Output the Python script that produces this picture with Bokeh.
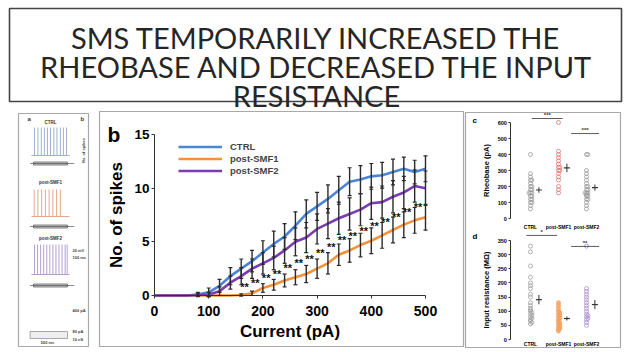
import numpy as np
from bokeh.plotting import figure
from bokeh.models import (Range1d, LinearAxis, FixedTicker, Whisker, ColumnDataSource,
                          TeeHead, Legend, LegendItem)
from bokeh.embed import file_html
from bokeh.resources import INLINE
from bokeh.core.properties import value

W, H = 624, 352

title_lines = ["SMS TEMPORARILY INCREASED THE",
               "RHEOBASE AND DECREASED THE INPUT",
               "RESISTANCE"]

# ---- b: number of spikes vs injected current (mean and SEM) ----
current_pa = list(range(0, 501, 20))
ctrl_spikes = [0, 0, 0, 0, 0.1, 0.3, 0.9, 1.8, 2.5, 3.2, 4.0, 4.8, 5.5, 6.5, 7.6, 8.3,
               9.0, 9.8, 10.6, 10.8, 11.1, 11.2, 11.5, 11.8, 11.5, 11.8]
ctrl_sem = [0, 0, 0, 0, 0.2, 0.4, 0.6, 0.8, 0.9, 1.0, 1.1, 1.2, 1.2, 1.3, 1.3, 1.3,
            1.3, 1.3, 1.3, 1.3, 1.2, 1.2, 1.2, 1.1, 1.1, 1.2]
smf1_spikes = [0, 0, 0, 0, 0, 0, 0, 0, 0.05, 0.2, 0.7, 1.0, 1.4, 1.7, 2.0, 2.5,
               3.0, 3.8, 4.2, 4.7, 5.1, 5.6, 6.1, 6.6, 7.0, 7.3]
smf1_sem = [0, 0, 0, 0, 0, 0, 0, 0, 0.1, 0.2, 0.4, 0.5, 0.6, 0.7, 0.8, 0.9,
            1.0, 1.0, 1.1, 1.1, 1.2, 1.2, 1.2, 1.2, 1.2, 1.2]
smf2_spikes = [0, 0, 0, 0, 0.05, 0.1, 0.4, 1.2, 1.8, 2.5, 3.0, 3.5, 4.2, 5.0, 5.4, 6.2,
               6.7, 7.2, 7.6, 8.0, 8.6, 8.7, 9.2, 9.6, 10.2, 10.0]
smf2_sem = [0, 0, 0, 0, 0.1, 0.2, 0.4, 0.6, 0.8, 0.9, 1.0, 1.1, 1.2, 1.3, 1.4, 1.4,
            1.4, 1.5, 1.5, 1.5, 1.5, 1.5, 1.5, 1.5, 1.5, 1.6]
sig_first_pa, sig_last_pa = 160, 480      # steps marked ** (post-SMF1 vs post-SMF2)
current_ticks = [0, 100, 200, 300, 400, 500]
spike_ticks = [0, 5, 10, 15]

# ---- c / d: per-cell rheobase (pA) and input resistance (MOhm) ----
groups = ["CTRL", "post-SMF1", "post-SMF2"]
rheo_ctrl = [400, 280, 260, 240, 240, 220, 200, 200, 180, 180, 160, 160, 160, 140, 140,
             120, 120, 100, 100, 80, 60]
rheo_smf1 = [600, 420, 400, 380, 360, 340, 320, 320, 300, 300, 280, 260, 240, 200, 180, 160]
rheo_smf2 = [400, 400, 300, 280, 260, 240, 220, 200, 200, 180, 180, 160, 160, 160, 150,
             140, 140, 120, 120, 100, 80, 60]
rheo_ticks = [0, 100, 200, 300, 400, 500, 600]
rin_ctrl = [330, 310, 260, 220, 200, 190, 180, 160, 150, 130, 120, 110, 105, 100, 95, 90,
            85, 80, 75, 70, 65, 60, 55]
rin_smf1 = [130, 120, 110, 100, 95, 90, 85, 80, 75, 70, 65, 60, 55, 50, 45, 40, 35, 30]
rin_smf2 = [330, 180, 170, 160, 150, 140, 130, 120, 110, 100, 90, 85, 80, 75, 70, 60, 50]
rin_ticks = [0, 50, 100, 150, 200, 250, 300, 350]

# ---- a: example traces, spike times (ms) during a 1 s step ----
spikes_ctrl_ms = [30, 130, 230, 320, 410, 500, 600, 690, 790, 880, 970]
spikes_smf1_ms = [20, 130, 240, 350, 460, 570, 680, 790]
spikes_smf2_ms = [30, 120, 210, 300, 390, 480, 570, 660, 750, 840, 930, 990]

BLUE, ORANGE, PURPLE = "#4a86d8", "#f4923c", "#7a3cb4"
SANS = "Liberation Sans"


def fit_x(d0, p0, d1, p1):
    """Range1d placing data d0 at pixel p0 and d1 at p1 (from the left edge)."""
    k = (p1 - p0) / (d1 - d0)
    s = d0 - p0 / k
    return Range1d(s, s + W / k)


def fit_y(d0, p0, d1, p1):
    """Range1d placing data d0 at pixel p0 and d1 at p1 (from the top edge)."""
    b0, b1 = H - p0, H - p1
    k = (b1 - b0) / (d1 - d0)
    s = d0 - b0 / k
    return Range1d(s, s + H / k)


def swarm(vals, center, step, bin_size):
    """Spread equal values sideways: 0, +1, -1, +2, -2 ... steps."""
    xs, seen = [], {}
    for v in vals:
        b = int(round(v / bin_size))
        n = seen.get(b, 0)
        seen[b] = n + 1
        k = (n + 1) // 2 * (1 if n % 2 else -1)
        xs.append(center + k * step)
    return xs


def style_axis(ax, tick_px, label_px, tick_out=3):
    ax.axis_line_color = "#333"
    ax.major_tick_line_color = "#333"
    ax.major_tick_in = 0
    ax.major_tick_out = tick_out
    ax.minor_tick_line_color = None
    ax.major_label_text_font = SANS
    ax.major_label_text_font_size = tick_px
    ax.major_label_text_font_style = "bold"
    ax.major_label_text_color = "black"
    ax.axis_label_text_font = SANS
    ax.axis_label_text_font_size = label_px
    ax.axis_label_text_font_style = "bold"
    ax.axis_label_text_color = "black"


p = figure(width=W, height=H, x_range=Range1d(0, W), y_range=Range1d(H, 0),
           x_axis_type=None, y_axis_type=None, toolbar_location=None,
           output_backend="svg", min_border=0, outline_line_color=None)
p.background_fill_color = "white"
p.border_fill_color = "white"

p.extra_x_ranges = {"bx": fit_x(0, 154, 500, 425),
                    "cx": fit_x(1, 530, 3, 586),
                    "ax": fit_x(0, 33, 1000, 67)}
p.extra_y_ranges = {"by": fit_y(0, 295, 15, 134),
                    "cy": fit_y(0, 218, 600, 122),
                    "dy": fit_y(0, 339, 350, 240)}

# ---------------- slide title ----------------
p.quad(left=[9], right=[621], top=[8], bottom=[101], fill_color=None,
       line_color="#444", line_width=1.6)
p.text(x=[316, 316, 316], y=[37, 66, 95], text=title_lines,
       text_font=value("Lato"), text_font_size="29px", text_color="#262626",
       text_align="center", text_baseline="alphabetic")

# panel frames
p.quad(left=[18, 99, 465], right=[88, 463, 620], top=[113, 111, 112],
       bottom=[346, 346, 347], fill_color=None, line_color="#a8a8a8", line_width=1.2)

# ---------------- panel b ----------------
B = dict(x_range_name="bx", y_range_name="by")
r_ctrl = p.line(current_pa, ctrl_spikes, line_color=BLUE, line_width=2.6, **B)
r_smf1 = p.line(current_pa, smf1_spikes, line_color=ORANGE, line_width=2.6, **B)
r_smf2 = p.line(current_pa, smf2_spikes, line_color=PURPLE, line_width=2.6, **B)

for mean, sem in [(ctrl_spikes, ctrl_sem), (smf1_spikes, smf1_sem), (smf2_spikes, smf2_sem)]:
    keep = [i for i, s in enumerate(sem) if s > 0]
    src = ColumnDataSource(dict(
        x=[current_pa[i] for i in keep],
        lo=[mean[i] - sem[i] for i in keep],
        hi=[mean[i] + sem[i] for i in keep]))
    w = Whisker(source=src, base="x", lower="lo", upper="hi", dimension="height",
                line_color="#2a2a2a", line_width=1.4,
                upper_head=TeeHead(size=4, line_color="#2a2a2a", line_width=1.2),
                lower_head=TeeHead(size=4, line_color="#2a2a2a", line_width=1.2),
                level="annotation", **B)
    p.add_layout(w)

star_idx = [i for i, c in enumerate(current_pa) if sig_first_pa <= c <= sig_last_pa]
p.text(x=[current_pa[i] + 6 for i in star_idx],
       y=[smf1_spikes[i] + 0.4 * (smf2_spikes[i] - smf1_spikes[i]) for i in star_idx],
       text=["**"] * len(star_idx), text_font=value(SANS), text_font_style="bold",
       text_font_size="11px", text_color="#111", text_align="center",
       text_baseline="middle", **B)

xb = LinearAxis(fixed_location=0, bounds=(0, 500), ticker=FixedTicker(ticks=current_ticks),
                axis_label="Current (pA)", **B)
style_axis(xb, "14px", "17px")
xb.major_label_standoff = 7
xb.axis_label_standoff = 3
yb = LinearAxis(fixed_location=0, bounds=(0, 15), ticker=FixedTicker(ticks=spike_ticks),
                axis_label="No. of spikes", **B)
style_axis(yb, "13.5px", "17px")
yb.major_label_standoff = 2
yb.axis_label_standoff = 5
p.add_layout(xb, "below")
p.add_layout(yb, "left")

legend = Legend(items=[LegendItem(label="CTRL", renderers=[r_ctrl]),
                       LegendItem(label="post-SMF1", renderers=[r_smf1]),
                       LegendItem(label="post-SMF2", renderers=[r_smf2])],
                location=(178, 176), padding=0, margin=0, spacing=1,
                glyph_width=44, glyph_height=11, label_height=11, label_standoff=8,
                border_line_color=None, background_fill_alpha=0,
                label_text_font=SANS, label_text_font_size="9.5px",
                label_text_font_style="bold")
p.add_layout(legend)

p.text(x=[107], y=[134], text=["b"], text_font=value(SANS), text_font_style="bold",
       text_font_size="21px", text_color="black", text_baseline="alphabetic")

# ---------------- panels c and d ----------------
def group_panel(yname, data, colors, fills, ticks, label, top, cat_standoff):
    G = dict(x_range_name="cx", y_range_name=yname)
    for gi, (vals, col, fill) in enumerate(zip(data, colors, fills), start=1):
        xs = swarm(vals, gi, 0.05, top / 40)
        p.scatter(xs, vals, marker="circle", size=4, line_color=col, line_width=0.8,
                  fill_color=fill, fill_alpha=0.85 if fill else 0, **G)
        m = float(np.mean(vals))
        s = float(np.std(vals, ddof=1) / np.sqrt(len(vals)))
        p.segment(x0=[gi + 0.3], y0=[m - s], x1=[gi + 0.3], y1=[m + s],
                  line_color="#333", line_width=1, **G)
        p.scatter([gi + 0.3], [m], marker="dash", size=6, line_color="#333",
                  line_width=1.2, **G)
    ya = LinearAxis(fixed_location=0.3, bounds=(0, top), ticker=FixedTicker(ticks=ticks),
                    axis_label=label, **G)
    style_axis(ya, "5.5px", "7.5px", tick_out=2)
    ya.major_label_standoff = 2
    ya.axis_label_standoff = 3
    xa = LinearAxis(fixed_location=0, ticker=FixedTicker(ticks=[1, 2, 3]),
                    major_label_overrides={1: groups[0], 2: groups[1], 3: groups[2]}, **G)
    style_axis(xa, "5px", "7px", tick_out=0)
    xa.axis_line_color = None
    xa.major_tick_line_color = None
    xa.major_label_standoff = cat_standoff
    p.add_layout(ya, "left")
    p.add_layout(xa, "below")
    return G


Gc = group_panel("cy", [rheo_ctrl, rheo_smf1, rheo_smf2], ["#9a9a9a", "#e07878", "#9a9a9a"],
                 [None, None, None], rheo_ticks, "Rheobase (pA)", 600, 5)
Gd = group_panel("dy", [rin_ctrl, rin_smf1, rin_smf2], ["#a0a0a0", "#f0a060", "#a890cc"],
                 [None, "#f4a86a", None], rin_ticks, "Input resistance (MΩ)", 350, 1)

# significance brackets
p.segment(x0=[1.05, 2.45], y0=[625, 531], x1=[2.15, 3.45], y1=[625, 531],
          line_color="#333", line_width=0.8, **Gc)
p.text(x=[1.6, 2.95], y=[628, 534], text=["***", "***"], text_font=value(SANS),
       text_font_style="bold", text_font_size="6px", text_align="center",
       text_baseline="bottom", text_color="#333", **Gc)
p.segment(x0=[0.85, 2.45], y0=[368, 329], x1=[1.95, 3.45], y1=[368, 329],
          line_color="#333", line_width=0.8, **Gd)
p.text(x=[1.4, 2.95], y=[370, 331], text=["*", "**"], text_font=value(SANS),
       text_font_style="bold", text_font_size="6px", text_align="center",
       text_baseline="bottom", text_color="#333", **Gd)

p.text(x=[472, 472], y=[124, 240], text=["c", "d"], text_font=value(SANS),
       text_font_style="bold", text_font_size="8px", text_color="black")

# ---------------- panel a: example traces ----------------
A = dict(x_range_name="ax")
traces = [(spikes_ctrl_ms, 127, 155, 163, "#9cb2d4", "CTRL", 122),
          (spikes_smf1_ms, 189, 216, 226, "#e4a98c", "post-SMF1", 182),
          (spikes_smf2_ms, 244, 274, 285, "#b4a0d0", "post-SMF2", 238)]
for times, ytop, ybase, ystep, col, name, ylab in traces:
    p.segment(x0=times, y0=[ybase] * len(times), x1=times, y1=[ytop] * len(times),
              line_color=col, line_width=1, **A)
    p.segment(x0=[-60], y0=[ybase], x1=[1060], y1=[ybase], line_color=col,
              line_width=1, **A)
    p.quad(left=[0], right=[1000], top=[ystep - 1.5], bottom=[ystep + 1.5],
           fill_color="#c8c8c8", line_color="#555", line_width=0.7, **A)
    p.segment(x0=[-100], y0=[ystep], x1=[1200], y1=[ystep], line_color="#555",
              line_width=0.7, **A)
    p.text(x=[500], y=[ylab], text=[name], text_font=value(SANS), text_font_style="bold",
           text_font_size="4.5px", text_color="#333", text_align="center",
           text_baseline="middle", **A)

p.quad(left=[-100], right=[1000], top=[331], bottom=[338], fill_color="#eeeeee",
       line_color="#777", line_width=0.6, **A)
p.text(x=[72, 72, 72, 72, 72], y=[250, 257, 310, 331, 339],
       text=["20 mV", "100 ms", "400 pA", "80 pA", "10 nS"],
       text_font=value(SANS), text_font_style="bold", text_font_size="4px",
       text_color="#444", text_baseline="middle")
p.text(x=[47], y=[342], text=["500 ms"], text_font=value(SANS), text_font_style="bold",
       text_font_size="4px", text_color="#444", text_align="center", text_baseline="middle")
p.text(x=[27, 80], y=[118, 118], text=["a", "b"], text_font=value(SANS),
       text_font_style="bold", text_font_size="6px", text_color="#333",
       text_baseline="middle")
p.text(x=[83], y=[150], text=["No. of spikes"], angle=[np.pi / 2], text_font=value(SANS),
       text_font_style="bold", text_font_size="4px", text_color="#444",
       text_align="center", text_baseline="middle")

open("out.html", "w").write(file_html(p, INLINE))
